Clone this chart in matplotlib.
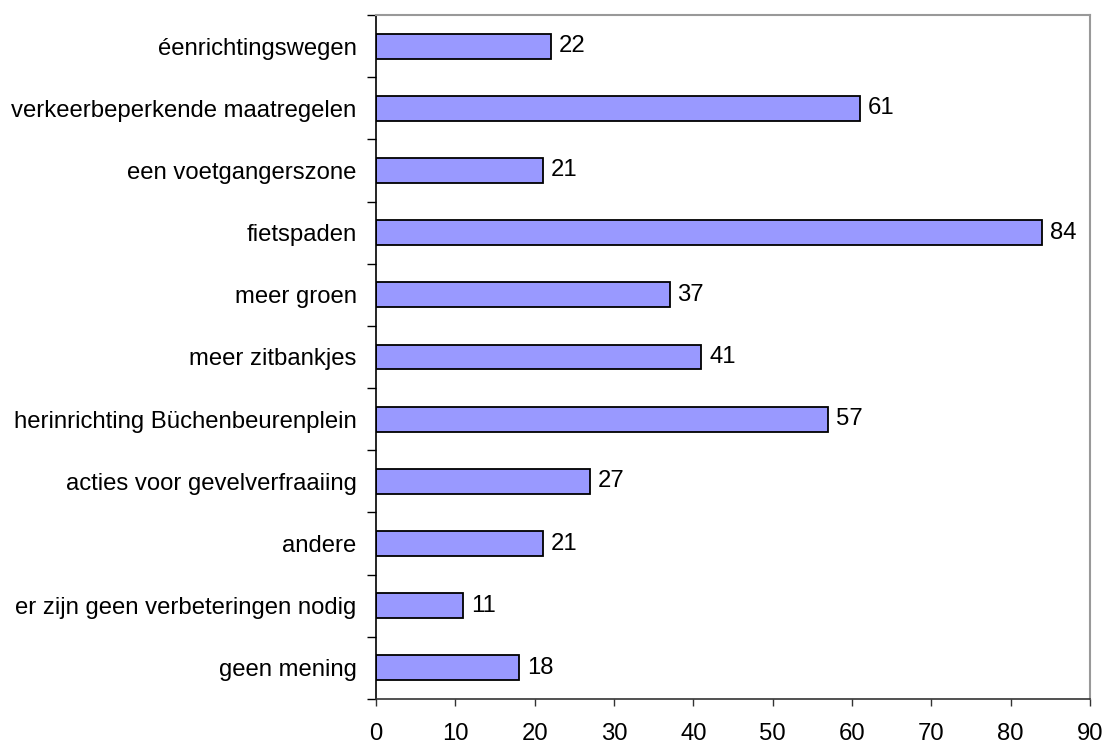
import matplotlib
matplotlib.use("Agg")
import matplotlib.pyplot as plt
import numpy as np

plt.rcParams["font.family"] = ["Liberation Sans", "DejaVu Sans"]

categories = [
    "éenrichtingswegen",
    "verkeerbeperkende maatregelen",
    "een voetgangerszone",
    "fietspaden",
    "meer groen",
    "meer zitbankjes",
    "herinrichting Büchenbeurenplein",
    "acties voor gevelverfraaiing",
    "andere",
    "er zijn geen verbeteringen nodig",
    "geen mening",
]
values = [22, 61, 21, 84, 37, 41, 57, 27, 21, 11, 18]
x_ticks = list(range(0, 91, 10))

FS = 17.2

fig = plt.figure(figsize=(11.07, 7.45), dpi=100)
ax = fig.add_axes([376 / 1107, 1 - 699 / 745, (1090 - 376) / 1107, (699 - 15) / 745])

n = len(categories)
ypos = np.arange(n)[::-1]
ax.barh(ypos, values, height=0.4, color="#9999FF", edgecolor="black", linewidth=1.3)

for y, v in zip(ypos, values):
    ax.text(v + 1.0, y, str(v), va="center", ha="left", fontsize=FS)

ax.set_xlim(0, 90)
ax.set_ylim(-0.5, n - 0.5)
ax.set_xticks(x_ticks)
ax.set_xticklabels([str(t) for t in x_ticks], fontsize=FS)
ax.tick_params(axis="x", length=5, width=1, color="#333333", pad=12)

# category labels at centres, ticks at boundaries
ax.set_yticks(np.arange(-0.5, n, 1.0))
ax.set_yticklabels([])
ax.tick_params(axis="y", which="major", length=6.5, width=1)
ax.set_yticks(ypos, minor=True)
ax.set_yticklabels(categories, minor=True, fontsize=FS)
ax.tick_params(axis="y", which="minor", length=0, pad=14)

ax.spines["left"].set_color("black")
ax.spines["bottom"].set_color("#333333")
ax.spines["left"].set_linewidth(1.2)
ax.spines["bottom"].set_linewidth(1.2)
for s in ("top", "right"):
    ax.spines[s].set_color("#999999")
    ax.spines[s].set_linewidth(1.5)

fig.savefig("out.png", dpi=100)
